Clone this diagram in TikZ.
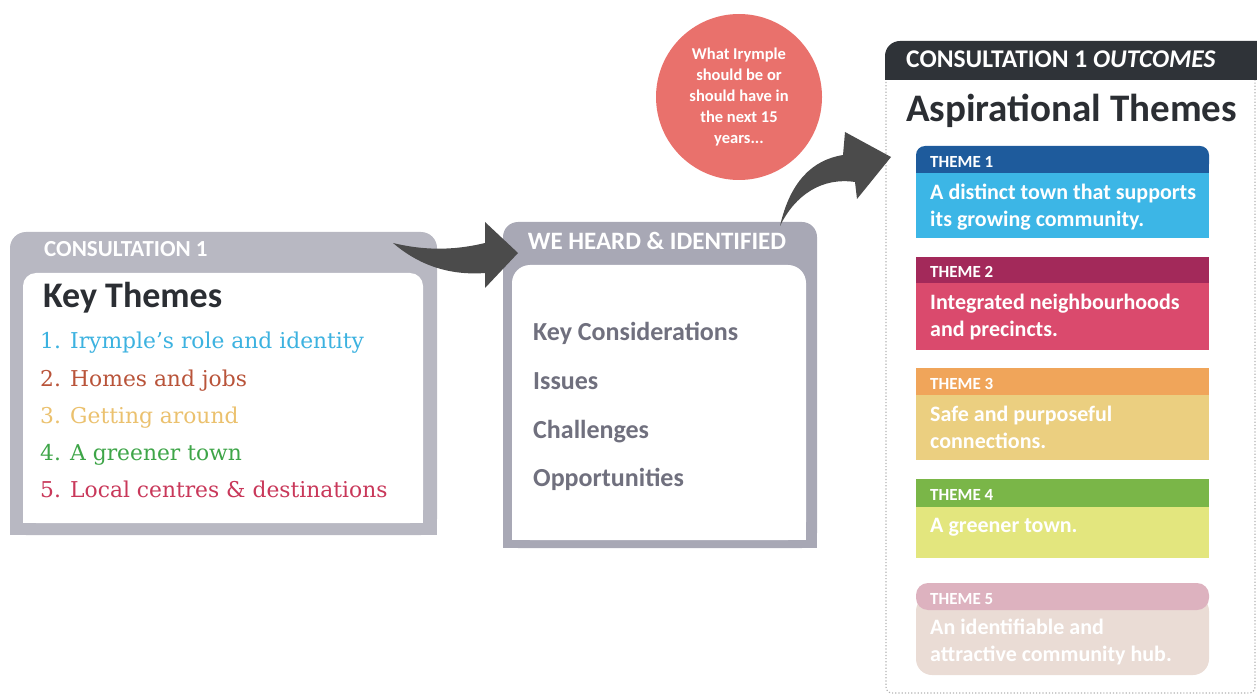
\documentclass[tikz,border=0pt]{standalone}
\usepackage{fontspec}
\setmainfont{Carlito}
\newfontfamily\listfont{DejaVu Serif}
\usetikzlibrary{positioning}
\definecolor{leftgrey}{RGB}{184,184,194}
\definecolor{midgrey}{RGB}{168,168,181}
\definecolor{midtext}{RGB}{112,112,126}
\definecolor{titledark}{RGB}{43,46,51}
\definecolor{outdark}{RGB}{47,51,56}
\definecolor{arrowdark}{RGB}{75,75,75}
\definecolor{bubblered}{RGB}{233,113,108}
\definecolor{kcyan}{RGB}{60,178,224}
\definecolor{kbrown}{RGB}{185,84,58}
\definecolor{ktan}{RGB}{235,193,110}
\definecolor{kgreen}{RGB}{62,165,72}
\definecolor{kcrimson}{RGB}{201,56,90}
\definecolor{tonehead}{RGB}{30,91,156}
\definecolor{tonebody}{RGB}{60,182,230}
\definecolor{ttwohead}{RGB}{163,41,90}
\definecolor{ttwobody}{RGB}{218,74,109}
\definecolor{tthreehead}{RGB}{240,165,90}
\definecolor{tthreebody}{RGB}{235,207,128}
\definecolor{tfourhead}{RGB}{122,182,72}
\definecolor{tfourbody}{RGB}{227,230,126}
\definecolor{tfivehead}{RGB}{221,178,191}
\definecolor{tfivebody}{RGB}{234,220,213}

\begin{document}
\begin{tikzpicture}[x=1pt,y=-1pt,
    hdr/.style={anchor=base west, inner sep=0, text=white, font=\bfseries\fontsize{23}{27}\selectfont},
    bigtitle/.style={anchor=base west, inner sep=0, text=titledark, font=\bfseries\fontsize{36}{40}\selectfont},
    keyitem/.style={anchor=base west, inner sep=0, font=\listfont\fontsize{21.8}{26}\selectfont},
    heard/.style={anchor=base west, inner sep=0, text=midtext, font=\bfseries\fontsize{26}{30}\selectfont},
    themehead/.style={anchor=base west, inner sep=0, text=white, font=\bfseries\fontsize{17}{20}\selectfont},
    themetext/.style={anchor=base west, inner sep=0, text=white, font=\bfseries\fontsize{22}{27}\selectfont, align=left},
    bubble/.style={circle, fill=bubblered, minimum size=166pt, inner sep=0, text=white, align=center, font=\bfseries\fontsize{16.5}{21}\selectfont}]
  \useasboundingbox (0,0) rectangle (1257,700);

  % consultation 1 box
  \fill[leftgrey, rounded corners=16pt] (10,232) rectangle (437,535);
  \fill[leftgrey] (10,300) rectangle (437,535);
  \fill[white, rounded corners=13pt] (23,273) rectangle (423,523);
  \fill[white] (23,320) rectangle (423,523);
  \node[hdr] (cons) at (44,257) {CONSULTATION 1};
  \node[bigtitle] (keyth) at (43,308) {Key Themes};
  \node[keyitem, text=kcyan] (n1) at (40,348) {1.};
  \node[keyitem, text=kcyan] (k1) at (70,348) {Irymple’s role and identity};
  \node[keyitem, text=kbrown] (n2) at (40,386) {2.};
  \node[keyitem, text=kbrown] (k2) at (70,386) {Homes and jobs};
  \node[keyitem, text=ktan] (n3) at (40,423) {3.};
  \node[keyitem, text=ktan] (k3) at (70,423) {Getting around};
  \node[keyitem, text=kgreen] (n4) at (40,460) {4.};
  \node[keyitem, text=kgreen] (k4) at (70,460) {A greener town};
  \node[keyitem, text=kcrimson] (n5) at (40,497) {5.};
  \node[keyitem, text=kcrimson] (k5) at (70,497) {Local centres \& destinations};

  % we heard box
  \fill[midgrey, rounded corners=15pt] (503,222) rectangle (817,548);
  \fill[midgrey] (503,300) rectangle (817,548);
  \fill[white, rounded corners=18pt] (512,265) rectangle (806,540);
  \fill[white] (512,320) rectangle (806,540);
  \node[hdr, anchor=base, font=\bfseries\fontsize{25}{29}\selectfont] (heardhd) at (657,250) {WE HEARD \& IDENTIFIED};
  \node[heard] (h1) at (533,340) {Key Considerations};
  \node[heard] (h2) at (533,389) {Issues};
  \node[heard] (h3) at (533,438) {Challenges};
  \node[heard] (h4) at (533,486) {Opportunities};

  % outcomes box
  \draw[gray!60, dotted, line width=1.2pt, rounded corners=6pt] (886,60) rectangle (1255,693);
  \fill[outdark, rounded corners=15pt] (885,41) rectangle (1275,80);
  \fill[outdark] (885,60) rectangle (1257,80);
  \node[hdr, font=\bfseries\fontsize{25.5}{29}\selectfont] (outhd) at (906,68) {CONSULTATION 1 \textit{OUTCOMES}};
  \node[bigtitle, font=\bfseries\fontsize{39}{44}\selectfont] (aspth) at (906,122) {Aspirational Themes};

  % theme 1
  \fill[tonehead, rounded corners=9pt] (916,146) rectangle (1209,173);
  \fill[tonehead] (916,160) rectangle (1209,173);
  \fill[tonebody] (916,173) rectangle (1209,238);
  \node[themehead] (t1) at (930,168) {THEME 1};
  \node[themetext] (d1) at (930,227) {A distinct town that supports\\its growing community.};
  % theme 2
  \fill[ttwohead] (916,257) rectangle (1209,283);
  \fill[ttwobody] (916,283) rectangle (1209,350);
  \node[themehead] (t2) at (930,278) {THEME 2};
  \node[themetext] (d2) at (930,336) {Integrated neighbourhoods\\and precincts.};
  % theme 3
  \fill[tthreehead] (916,368) rectangle (1209,395);
  \fill[tthreebody] (916,395) rectangle (1209,460);
  \node[themehead] (t3) at (930,389) {THEME 3};
  \node[themetext] (d3) at (930,448) {Safe and purposeful\\connections.};
  % theme 4
  \fill[tfourhead] (916,479) rectangle (1209,507);
  \fill[tfourbody] (916,507) rectangle (1209,558);
  \node[themehead] (t4) at (930,500) {THEME 4};
  \node[themetext] (d4) at (930,532) {A greener town.};
  % theme 5
  \fill[tfivebody, rounded corners=16pt] (916,595) rectangle (1209,675);
  \fill[tfivehead, rounded corners=12pt] (916,583) rectangle (1209,610);
  \node[themehead] (t5) at (930,604) {THEME 5};
  \node[themetext] (d5) at (930,661) {An identifiable and\\attractive community hub.};

  % bubble
  \node[bubble] (wish) at (739,97) {What Irymple\\should be or\\should have in\\the next 15\\years...};

  % arrows
  \coordinate (a1tail) at (393,243);
  \coordinate (a1tip) at (518,253);
  \fill[arrowdark] (a1tail) .. controls (430,252) and (460,249) .. (485,243)
    -- (485,222) -- (a1tip) -- (485,288) -- (485,273)
    .. controls (445,276) and (415,262) .. (a1tail) -- cycle;
  \coordinate (a2tail) at (780,226);
  \coordinate (a2tip) at (891,157);
  \fill[arrowdark] (a2tail) .. controls (790,182) and (812,160) .. (843,155)
    -- (845,132) -- (a2tip) -- (857,199) -- (855,182)
    .. controls (822,177) and (795,195) .. (a2tail) -- cycle;
\end{tikzpicture}
\end{document}
